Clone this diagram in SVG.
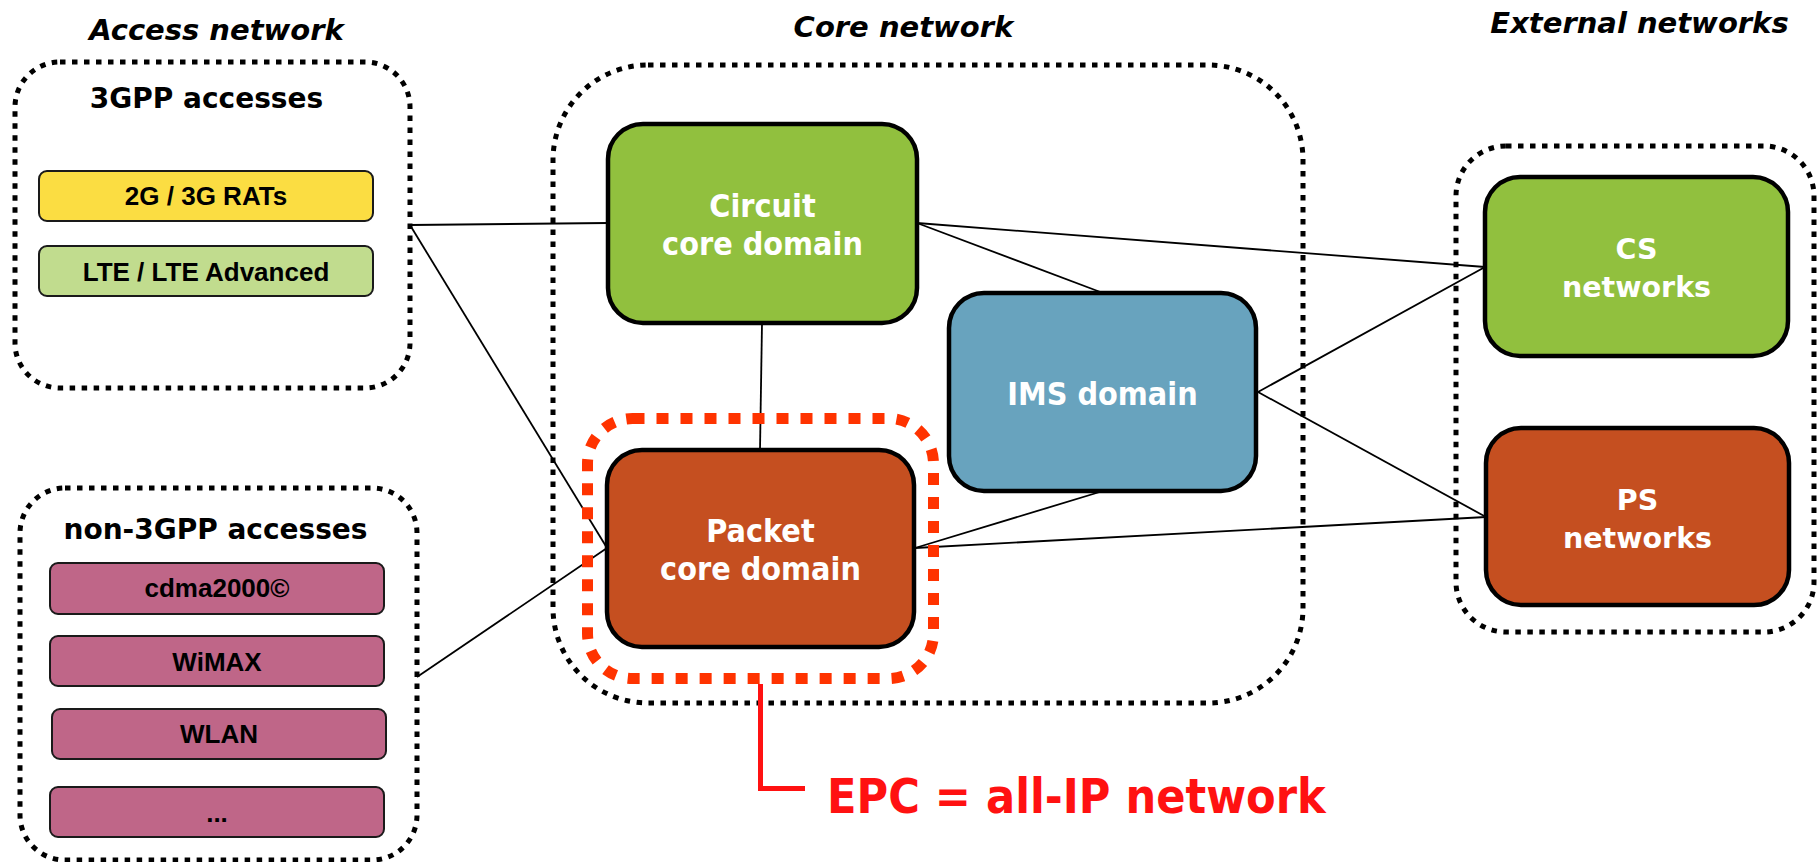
<svg xmlns="http://www.w3.org/2000/svg" width="1818" height="862" viewBox="0 0 1818 862">
<style>
.title{font-family:"DejaVu Sans",Verdana,sans-serif;font-weight:bold;font-style:oblique;font-size:29px;fill:#000;text-anchor:middle}
.grp{fill:none;stroke:#000;stroke-width:5;stroke-dasharray:5.5 6.5}
.grplabel{font-family:"DejaVu Sans",Verdana,sans-serif;font-weight:bold;font-size:28px;fill:#000;text-anchor:middle}
.small{stroke:#1a1a1a;stroke-width:2}
.smalltxt{font-family:"Liberation Sans",Arial,sans-serif;font-weight:bold;font-size:26px;fill:#000;text-anchor:middle}
.big{stroke:#000;stroke-width:4.5}
.bigtxt{font-family:"DejaVu Sans Condensed","DejaVu Sans",Tahoma,sans-serif;font-stretch:condensed;font-weight:bold;font-size:32px;fill:#fff;text-anchor:middle}
.exttxt{font-family:"DejaVu Sans",Verdana,sans-serif;font-weight:bold;font-size:28.5px;fill:#fff;text-anchor:middle}
.conn line{stroke:#000;stroke-width:1.8}
</style>

<!-- titles -->
<text class="title" x="216.5" y="40">Access network</text>
<text class="title" x="903.5" y="37">Core network</text>
<text class="title" x="1639.5" y="33">External networks</text>

<!-- group containers -->
<g id="access-3gpp">
<rect class="grp" x="15" y="62" width="395" height="326" rx="45"/>
<text class="grplabel" x="206.5" y="108">3GPP accesses</text>
</g>
<g id="access-non3gpp">
<rect class="grp" x="20" y="488" width="397" height="372" rx="45"/>
<text class="grplabel" x="215.5" y="539">non-3GPP accesses</text>
</g>
<g id="core-network">
<rect class="grp" x="553" y="65" width="750" height="638" rx="95"/>
</g>
<g id="external-networks">
<rect class="grp" x="1456" y="146" width="358" height="486" rx="50"/>
</g>

<!-- connectors -->
<g id="connectors" class="conn">
<line x1="410" y1="225" x2="608" y2="223"/>
<line x1="410" y1="225" x2="607" y2="548"/>
<line x1="417" y1="677" x2="607" y2="548"/>
<line x1="762" y1="323" x2="760" y2="450"/>
<line x1="917" y1="223" x2="1103" y2="293"/>
<line x1="917" y1="223" x2="1485" y2="267"/>
<line x1="1258" y1="392" x2="1485" y2="267"/>
<line x1="1258" y1="392" x2="1486" y2="517"/>
<line x1="1103" y1="491" x2="915" y2="548"/>
<line x1="915" y1="548" x2="1486" y2="517"/>
</g>

<!-- access items -->
<g id="rat-2g3g">
<rect class="small" x="39" y="171" width="334" height="50" rx="8" fill="#FBDD42"/>
<text class="smalltxt" x="206" y="205">2G / 3G RATs</text>
</g>
<g id="rat-lte">
<rect class="small" x="39" y="246" width="334" height="50" rx="8" fill="#C1DC8E"/>
<text class="smalltxt" x="206" y="281">LTE / LTE Advanced</text>
</g>
<g id="cdma2000">
<rect class="small" x="50" y="563" width="334" height="51" rx="8" fill="#BF6688"/>
<text class="smalltxt" x="217" y="597">cdma2000©</text>
</g>
<g id="wimax">
<rect class="small" x="50" y="636" width="334" height="50" rx="8" fill="#BF6688"/>
<text class="smalltxt" x="217" y="671">WiMAX</text>
</g>
<g id="wlan">
<rect class="small" x="52" y="709" width="334" height="50" rx="8" fill="#BF6688"/>
<text class="smalltxt" x="219" y="743">WLAN</text>
</g>
<g id="other-access">
<rect class="small" x="50" y="787" width="334" height="50" rx="8" fill="#BF6688"/>
<text class="smalltxt" x="217" y="822">...</text>
</g>

<!-- core domains -->
<g id="circuit-core">
<rect class="big" x="608" y="124" width="309" height="199" rx="35" fill="#91C03E"/>
<text class="bigtxt" x="762.5" y="217">Circuit</text>
<text class="bigtxt" x="762.5" y="255">core domain</text>
</g>
<g id="packet-core">
<rect class="big" x="607" y="450" width="307" height="197" rx="35" fill="#C54F20"/>
<text class="bigtxt" x="760.5" y="542">Packet</text>
<text class="bigtxt" x="760.5" y="580">core domain</text>
</g>
<g id="ims-domain">
<rect class="big" x="949" y="293" width="307" height="198" rx="35" fill="#68A3BE"/>
<text class="bigtxt" x="1102.5" y="405">IMS domain</text>
</g>

<!-- external -->
<g id="cs-networks">
<rect class="big" x="1485" y="177" width="303" height="179" rx="35" fill="#91C03E"/>
<text class="exttxt" x="1636.5" y="259">CS</text>
<text class="exttxt" x="1636.5" y="297">networks</text>
</g>
<g id="ps-networks">
<rect class="big" x="1486" y="428" width="303" height="177" rx="35" fill="#C54F20"/>
<text class="exttxt" x="1637.5" y="510">PS</text>
<text class="exttxt" x="1637.5" y="548">networks</text>
</g>

<!-- EPC highlight -->
<g id="epc">
<rect x="587.5" y="418.5" width="346" height="260" rx="45" fill="none" stroke="#FF3300" stroke-width="11" stroke-dasharray="12 12"/>
<polyline points="760.5,684 760.5,788.5 805,788.5" fill="none" stroke="#FF1111" stroke-width="5"/>
<text x="827" y="813" font-family="'DejaVu Sans Condensed','DejaVu Sans',Tahoma,sans-serif" font-stretch="condensed" font-weight="bold" font-size="48" fill="#FF1111">EPC = all-IP network</text>
</g>
</svg>
